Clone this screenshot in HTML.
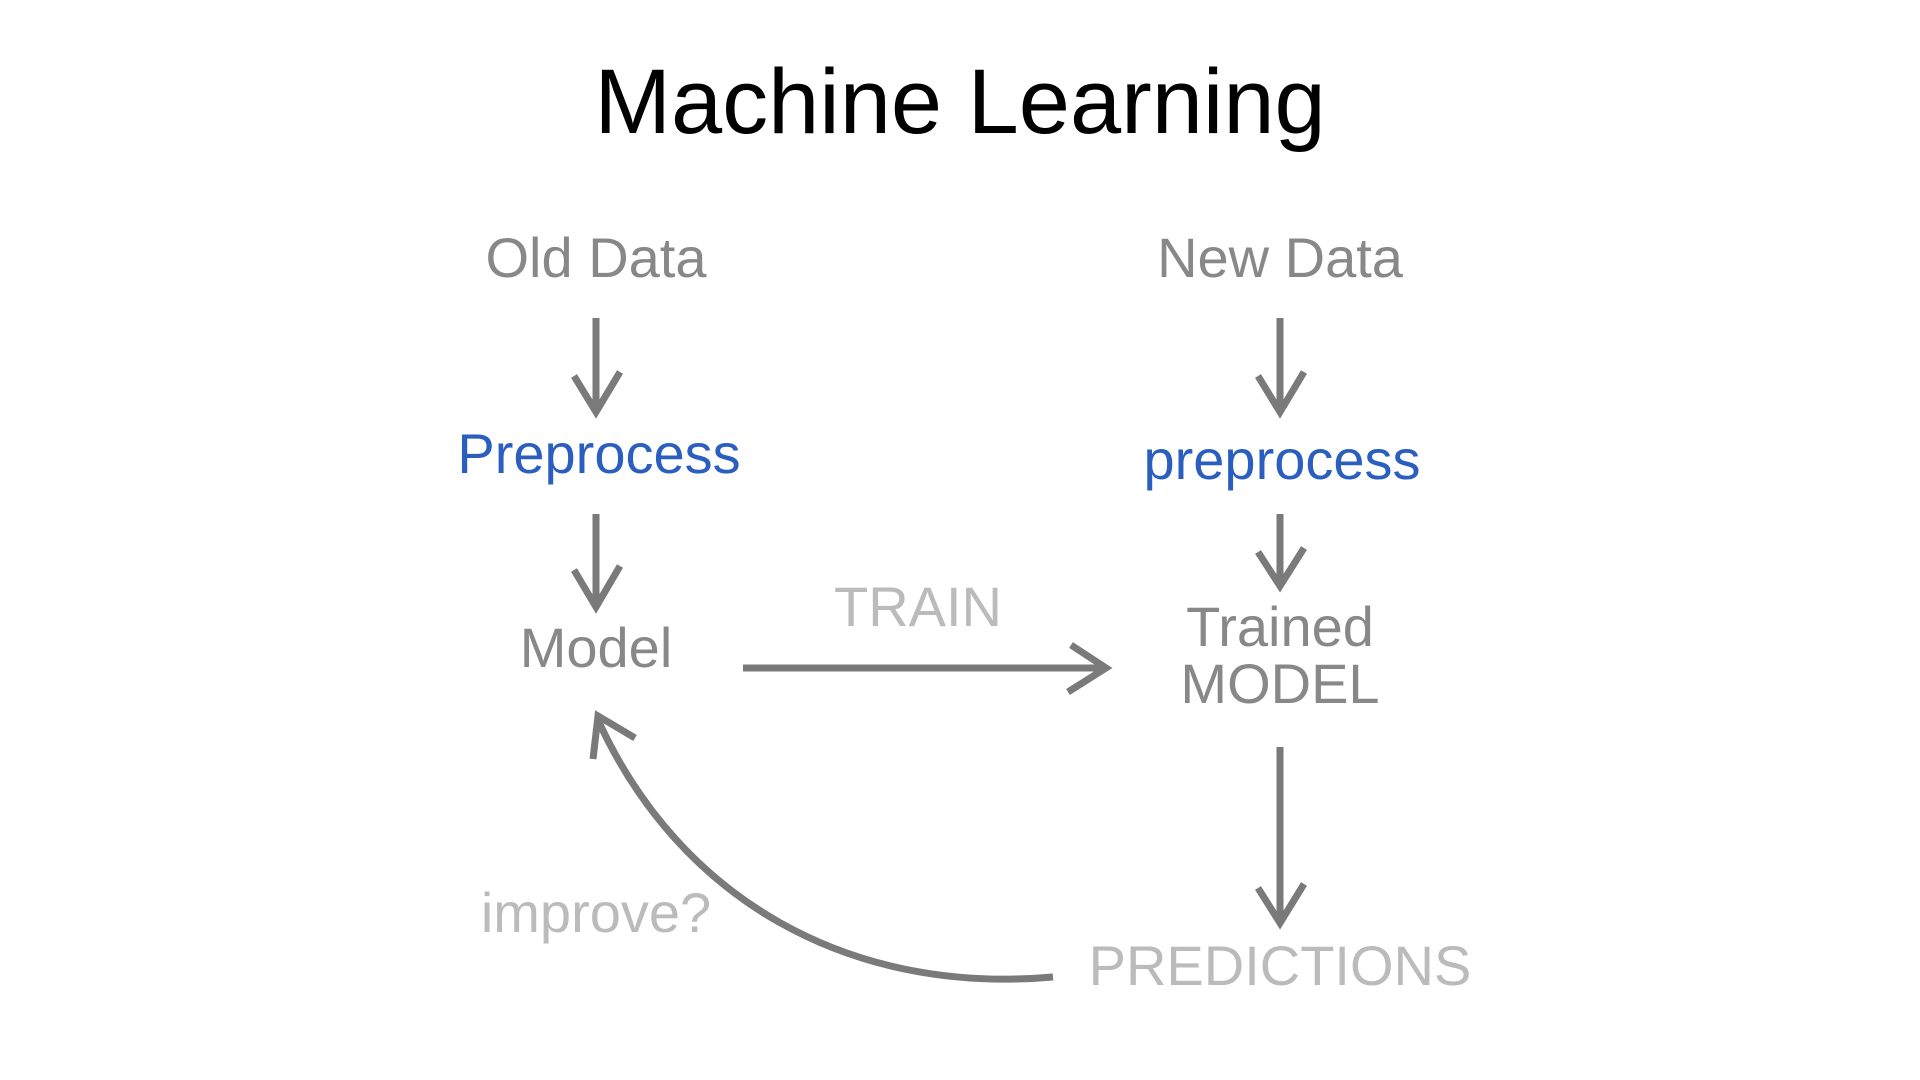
<!DOCTYPE html>
<html><head><meta charset="utf-8"><style>
html,body{margin:0;padding:0;background:#fff;}
body{width:1920px;height:1080px;position:relative;overflow:hidden;font-family:"Liberation Sans",sans-serif;}
svg{position:absolute;left:0;top:0;}
</style></head><body>
<svg width="1920" height="1080" viewBox="0 0 1920 1080">
<text x="960" y="133" text-anchor="middle" font-family="Liberation Sans, sans-serif" font-size="92" fill="#000">Machine Learning</text>
<g font-family="Liberation Sans, sans-serif" font-size="56" text-anchor="middle">
<text x="596" y="277" fill="#888">Old Data</text>
<text x="1280" y="277" fill="#888">New Data</text>
<text x="599" y="473" fill="#2a5fbf">Preprocess</text>
<text x="1282" y="479" fill="#2a5fbf">preprocess</text>
<text x="596" y="667" fill="#888">Model</text>
<text x="918" y="626" fill="#bbb">TRAIN</text>
<text x="1280" y="646" fill="#888">Trained</text>
<text x="1280" y="703" fill="#888">MODEL</text>
<text x="596" y="932" fill="#bbb">improve?</text>
<text x="1280" y="985" fill="#bbb">PREDICTIONS</text>
</g>
<g stroke="#7a7a7a" stroke-width="7" fill="none" stroke-linecap="butt">
<path d="M596 318 V412 M574 376 L596 412 L620 372"/>
<path d="M596 514 V607 M574 570 L596 607 L620 566"/>
<path d="M1280 318 V412 M1258 376 L1280 412 L1304 372"/>
<path d="M1280 514 V586 M1258 552 L1280 586 L1304 548"/>
<path d="M1280 747 V923 M1258 888 L1280 923 L1304 884"/>
<path d="M743 668 H1106 M1071 645 L1106 668 L1068 692"/>
<path d="M1053 977 C 850 995 680 900 598 720"/>
<path d="M635 738 L598 716 L593 759"/>
</g>
</svg>
</body></html>
